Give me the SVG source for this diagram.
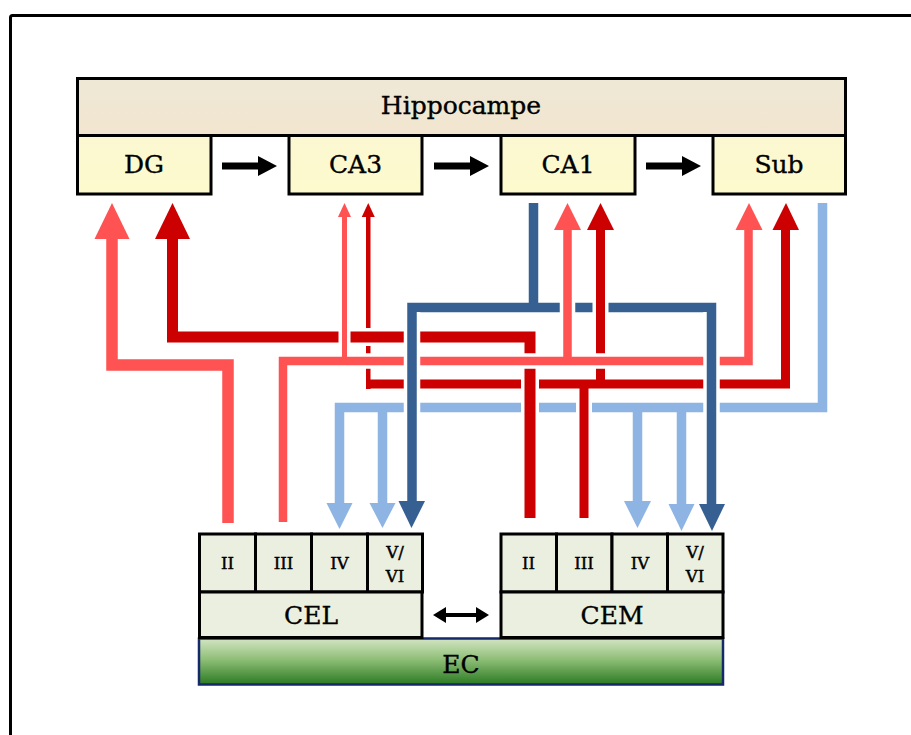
<svg xmlns="http://www.w3.org/2000/svg" width="911" height="735" viewBox="0 0 911 735">
  <style>
    .frame { fill: none; stroke: #000; stroke-width: 3; }
    .box { stroke: #000; stroke-width: 3; }
    .hdr { fill: url(#hdrGrad); }
    .sub { fill: url(#subGrad); }
    .cell { fill: #ebefdf; }
    .lbl { font-family: "DejaVu Serif", "Liberation Serif", serif; fill: #000; stroke: #000; stroke-width: 0.35; text-anchor: middle; }
    .big { font-size: 25px; }
    .small { font-size: 16.5px; stroke-width: 0.45; }
    .halo { fill: none; stroke: #fff; stroke-linejoin: miter; }
    .ln { fill: none; stroke-linejoin: miter; }
    .lb { stroke: #8db4e3; }
    .db { stroke: #376092; }
    .dr { stroke: #cc0000; }
    .lr { stroke: #ff5252; }
    .f-lb { fill: #8db4e3; }
    .f-db { fill: #376092; }
    .f-dr { fill: #cc0000; }
    .f-lr { fill: #ff5252; }
  </style>
  <defs>
    <linearGradient id="hdrGrad" x1="0" y1="0" x2="0" y2="1">
      <stop offset="0" stop-color="#eee9d6"/>
      <stop offset="1" stop-color="#f2e5cf"/>
    </linearGradient>
    <linearGradient id="subGrad" x1="0" y1="0" x2="0" y2="1">
      <stop offset="0" stop-color="#fbf8d2"/>
      <stop offset="1" stop-color="#fdfacd"/>
    </linearGradient>
    <linearGradient id="ecGrad" x1="0" y1="0" x2="0" y2="1">
      <stop offset="0" stop-color="#d3e5c3"/>
      <stop offset="0.45" stop-color="#8fbf78"/>
      <stop offset="1" stop-color="#2b7a22"/>
    </linearGradient>
  </defs>

  <rect width="911" height="735" fill="#fff"/>
  <rect class="frame" x="10.5" y="15.5" width="1000" height="1000" rx="2"/>

  <!-- Hippocampus block -->
  <g id="hippocampe">
    <rect class="box hdr" x="77.5" y="78.5" width="768" height="57"/>
    <text class="lbl big" x="461" y="114" font-size="24.5">Hippocampe</text>
  </g>
  <g id="dg">
    <rect class="box sub" x="77.5" y="135.5" width="133.5" height="58.5"/>
    <text class="lbl big" x="144" y="173">DG</text>
  </g>
  <g id="ca3">
    <rect class="box sub" x="289" y="135.5" width="133" height="58.5"/>
    <text class="lbl big" x="355.5" y="173">CA3</text>
  </g>
  <g id="ca1">
    <rect class="box sub" x="501" y="135.5" width="134" height="58.5"/>
    <text class="lbl big" x="568" y="173">CA1</text>
  </g>
  <g id="sub">
    <rect class="box sub" x="713" y="135.5" width="132.5" height="58.5"/>
    <text class="lbl big" x="779" y="173">Sub</text>
  </g>

  <!-- Entorhinal cortex -->
  <g id="ec">
    <rect x="199" y="638.5" width="524" height="46" fill="url(#ecGrad)" stroke="#15286a" stroke-width="2.5"/>
    <text class="lbl big" x="461" y="673">EC</text>
  </g>
  <g id="cel">
    <rect class="box cell" x="199.5" y="534" width="56" height="58"/>
    <rect class="box cell" x="255.5" y="534" width="56" height="58"/>
    <rect class="box cell" x="311.5" y="534" width="56" height="58"/>
    <rect class="box cell" x="367.5" y="534" width="55" height="58"/>
    <rect class="box cell" x="199.5" y="592" width="222.5" height="45.5"/>
    <text class="lbl small" x="227.5" y="569">II</text>
    <text class="lbl small" x="283.5" y="569">III</text>
    <text class="lbl small" x="339.5" y="569">IV</text>
    <text class="lbl small" x="395" y="558">V/</text>
    <text class="lbl small" x="395" y="582">VI</text>
    <text class="lbl big" x="311" y="624">CEL</text>
  </g>
  <g id="cem">
    <rect class="box cell" x="501" y="534" width="55.5" height="58"/>
    <rect class="box cell" x="556.5" y="534" width="55.5" height="58"/>
    <rect class="box cell" x="612" y="534" width="55.5" height="58"/>
    <rect class="box cell" x="667.5" y="534" width="55.5" height="58"/>
    <rect class="box cell" x="501" y="592" width="222" height="45.5"/>
    <text class="lbl small" x="528.5" y="569">II</text>
    <text class="lbl small" x="584" y="569">III</text>
    <text class="lbl small" x="640" y="569">IV</text>
    <text class="lbl small" x="695" y="558">V/</text>
    <text class="lbl small" x="695" y="582">VI</text>
    <text class="lbl big" x="612" y="624">CEM</text>
  </g>

  <g id="connectors">
    <!-- trisynaptic chain -->
    <polygon points="222,162.5 258,162.5 258,156 277,166 258,176 258,169.5 222,169.5" fill="#000"/>
    <polygon points="434,162.5 470,162.5 470,156 489,166 470,176 470,169.5 434,169.5" fill="#000"/>
    <polygon points="646,162.5 682,162.5 682,156 701,166 682,176 682,169.5 646,169.5" fill="#000"/>
    <!-- CEL <-> CEM -->
    <polygon points="433,615 446,607 446,613 476,613 476,607 489,615 476,623 476,617 446,617 446,623" fill="#000"/>

    <!-- light blue: Sub -> IV and V/VI -->
    <g>
      <path class="halo" stroke-width="16.5" d="M822.5,203 V407.5 H339.5 V503 M382.5,407.5 V503 M637.5,407.5 V501 M681.5,407.5 V504"/>
      <path class="ln lb" stroke-width="9.5" d="M822.5,203 V407.5 H339.5 V503 M382.5,407.5 V503 M637.5,407.5 V501 M681.5,407.5 V504"/>
      <polygon class="f-lb" points="326.5,503 352.5,503 339.5,529"/>
      <polygon class="f-lb" points="369.5,503 395.5,503 382.5,528"/>
      <polygon class="f-lb" points="624,501 651,501 637.5,528"/>
      <polygon class="f-lb" points="668.5,504 694.5,504 681.5,531"/>
    </g>

    <!-- dark blue: CA1 horizontal run -->
    <g>
      <path class="halo" stroke-width="16.5" d="M533.5,203 V307.5 M407.25,307.5 H716.25"/>
      <path class="ln db" stroke-width="9.5" d="M533.5,203 V307.5 M407.25,307.5 H716.25"/>
    </g>

    <!-- dark red: CEM III -> CA3, CA1, Sub -->
    <g>
      <path class="halo" stroke-width="16" d="M584,518 V384 M600.5,230 V384 M366,384 H785.5 V230"/>
      <path class="halo" stroke-width="11.5" d="M368.25,217 V389"/>
      <path class="ln dr" stroke-width="9" d="M584,518 V384 M600.5,230 V384 M366,384 H785.5 V230"/>
      <path class="ln dr" stroke-width="4.5" d="M368.25,217 V389"/>
      <polygon class="f-dr" points="361.75,217 374.75,217 368.25,203"/>
      <polygon class="f-dr" points="587,230 614,230 600.5,203"/>
      <polygon class="f-dr" points="772.5,230 799,230 786,203"/>
    </g>

    <!-- dark red: CEM II -> DG -->
    <g>
      <path class="halo" stroke-width="18" d="M530,518 V337 H172.5 V239"/>
      <path class="ln dr" stroke-width="11" d="M530,518 V337 H172.5 V239"/>
      <polygon class="f-dr" points="155,239 190,239 172.5,203"/>
    </g>

    <!-- light red: CEL II -> DG, CEL III -> CA3, CA1, Sub -->
    <g>
      <path class="halo" stroke-width="18.5" d="M228,523 V365 H112 V239"/>
      <path class="halo" stroke-width="15.5" d="M283,522 V361 H748.5 V230 M567.5,361 V230"/>
      <path class="halo" stroke-width="12" d="M344.5,361 V217"/>
      <path class="ln lr" stroke-width="11.5" d="M228,523 V365 H112 V239"/>
      <path class="ln lr" stroke-width="8.5" d="M283,522 V361 H748.5 V230 M567.5,361 V230"/>
      <path class="ln lr" stroke-width="5" d="M344.5,361 V217"/>
      <polygon class="f-lr" points="94.5,239 129.5,239 112,203"/>
      <polygon class="f-lr" points="338,217 351,217 344.5,203"/>
      <polygon class="f-lr" points="554,230 581,230 567.5,203"/>
      <polygon class="f-lr" points="735.5,230 762.5,230 749,203"/>
    </g>

    <!-- dark blue: down to V/VI of both sides -->
    <g>
      <path class="halo" stroke-width="16.5" d="M412,312 V501 M711.5,312 V504"/>
      <path class="ln db" stroke-width="9.5" d="M412,312 V501 M711.5,312 V504"/>
      <polygon class="f-db" points="398.5,501 425,501 411.5,528"/>
      <polygon class="f-db" points="699,504 725,504 712,531"/>
    </g>
  </g>
</svg>
